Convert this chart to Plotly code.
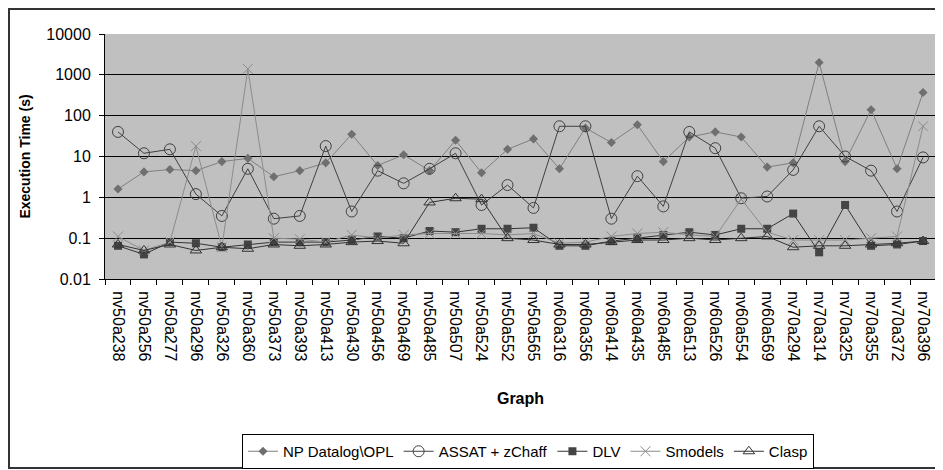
import plotly.graph_objects as go

graphs = ["nv50a238", "nv50a256", "nv50a277", "nv50a296", "nv50a326", "nv50a360", "nv50a373",
          "nv50a393", "nv50a413", "nv50a430", "nv50a456", "nv50a469", "nv50a485", "nv50a507",
          "nv50a524", "nv50a552", "nv50a565", "nv60a316", "nv60a356", "nv60a414", "nv60a435",
          "nv60a485", "nv60a513", "nv60a526", "nv60a554", "nv60a569", "nv70a294", "nv70a314",
          "nv70a325", "nv70a355", "nv70a372", "nv70a396"]

np_datalog = [1.6, 4.2, 4.8, 4.5, 7.5, 9, 3.2, 4.5, 7, 35, 6, 11, 4.5, 25, 4, 15, 27,
              5, 50, 22, 60, 7.5, 30, 40, 30, 5.5, 7, 2000, 7.5, 140, 5, 370]
assat = [40, 12, 15, 1.2, 0.35, 5, 0.3, 0.35, 18, 0.45, 4.5, 2.2, 5, 12, 0.65, 2, 0.55,
         55, 55, 0.3, 3.3, 0.6, 40, 16, 0.95, 1.05, 4.7, 55, 10, 4.5, 0.45, 9.5]
dlv = [0.065, 0.04, 0.08, 0.075, 0.06, 0.07, 0.08, 0.08, 0.08, 0.09, 0.11, 0.1, 0.15, 0.14,
       0.17, 0.17, 0.18, 0.065, 0.065, 0.085, 0.1, 0.12, 0.14, 0.12, 0.17, 0.17, 0.4, 0.045,
       0.65, 0.065, 0.07, 0.085]
smodels = [0.11, 0.05, 0.08, 18, 0.06, 1400, 0.1, 0.095, 0.08, 0.12, 0.1, 0.12, 0.13, 0.13,
           0.13, 0.12, 0.13, 0.075, 0.08, 0.11, 0.13, 0.14, 0.12, 0.11, 0.9, 0.14, 0.09, 0.09,
           0.09, 0.1, 0.11, 55]
clasp = [0.07, 0.05, 0.07, 0.05, 0.06, 0.055, 0.07, 0.065, 0.07, 0.08, 0.085, 0.075, 0.75,
         0.95, 0.9, 0.1, 0.09, 0.07, 0.07, 0.08, 0.09, 0.09, 0.1, 0.09, 0.1, 0.11, 0.06, 0.065,
         0.065, 0.07, 0.075, 0.085]

y_ticks = [0.01, 0.1, 1, 10, 100, 1000, 10000]
y_tick_text = ["0.01", "0.1", "1", "10", "100", "1000", "10000"]

# the page body has an 8px margin, so the figure is shifted by (8, 8)
OFF = 8
W, H = 943 - OFF, 470 - OFF
ML, MR, MT, MB = 105 - OFF, 7, 34 - OFF, 191

fig = go.Figure()
fig.add_trace(go.Scatter(x=graphs, y=np_datalog, name="NP Datalog\\OPL", mode="lines+markers",
                         line=dict(color="#7f7f7f", width=1),
                         marker=dict(symbol="diamond", size=7, color="#6f6f6f")))
fig.add_trace(go.Scatter(x=graphs, y=assat, name="ASSAT + zChaff", mode="lines+markers",
                         line=dict(color="#404040", width=1),
                         marker=dict(symbol="circle-open", size=11, color="#404040",
                                     line=dict(width=1))))
fig.add_trace(go.Scatter(x=graphs, y=dlv, name="DLV", mode="lines+markers",
                         line=dict(color="#333333", width=1),
                         marker=dict(symbol="square", size=8, color="#444444")))
fig.add_trace(go.Scatter(x=graphs, y=smodels, name="Smodels", mode="lines+markers",
                         line=dict(color="#8c8c8c", width=1),
                         marker=dict(symbol="x-thin", size=10, color="#8c8c8c",
                                     line=dict(width=1, color="#8c8c8c"))))
fig.add_trace(go.Scatter(x=graphs, y=clasp, name="Clasp", mode="lines+markers",
                         line=dict(color="#333333", width=1),
                         marker=dict(symbol="triangle-up-open", size=10, color="#333333",
                                     line=dict(width=1))))

px_w = W - ML - MR
px_h = H - MT - MB


def px2x(px):
    # px: page coordinate
    return (px - OFF - ML) / px_w


def px2y(py):
    return 1 - (py - OFF - MT) / px_h


fig.update_layout(
    width=W, height=H,
    margin=dict(l=ML, r=MR, t=MT, b=MB, autoexpand=False),
    paper_bgcolor="white",
    plot_bgcolor="#c0c0c0",
    font=dict(family="Liberation Sans, Arial, sans-serif", color="black"),
    showlegend=True,
    legend=dict(orientation="h", x=px2x(242), xanchor="left", xref="paper",
                y=px2y(434), yanchor="top", yref="paper",
                bordercolor="black", borderwidth=1, bgcolor="white",
                font=dict(size=15), tracegroupgap=0),
    shapes=[dict(type="rect", xref="paper", yref="paper",
                 x0=px2x(OFF + 1), x1=px2x(940), y0=px2y(OFF + 1), y1=px2y(468),
                 line=dict(color="#333333", width=2), layer="below")],
)

fig.update_xaxes(
    type="category", range=[-0.5, len(graphs) - 0.5],
    tickangle=90, tickson="boundaries", ticks="outside", ticklen=5,
    tickcolor="black", showline=True, linecolor="black", linewidth=1,
    showgrid=False, mirror=False, automargin=False, ticklabelstandoff=8,
    tickfont=dict(size=16),
    title=dict(text="<b>Graph</b>", font=dict(size=16), standoff=32),
)
fig.update_yaxes(
    type="log", range=[-2, 4], tickvals=y_ticks, ticktext=y_tick_text,
    ticks="outside", ticklen=5, tickcolor="black", automargin=False,
    ticklabelstandoff=5,
    showgrid=True, gridcolor="black", gridwidth=1,
    showline=True, linecolor="black", linewidth=1,
    tickfont=dict(size=16),
    title=dict(text="<b>Execution Time (s)</b>", font=dict(size=14), standoff=12),
    zeroline=False,
)

fig.write_html("out.html")
